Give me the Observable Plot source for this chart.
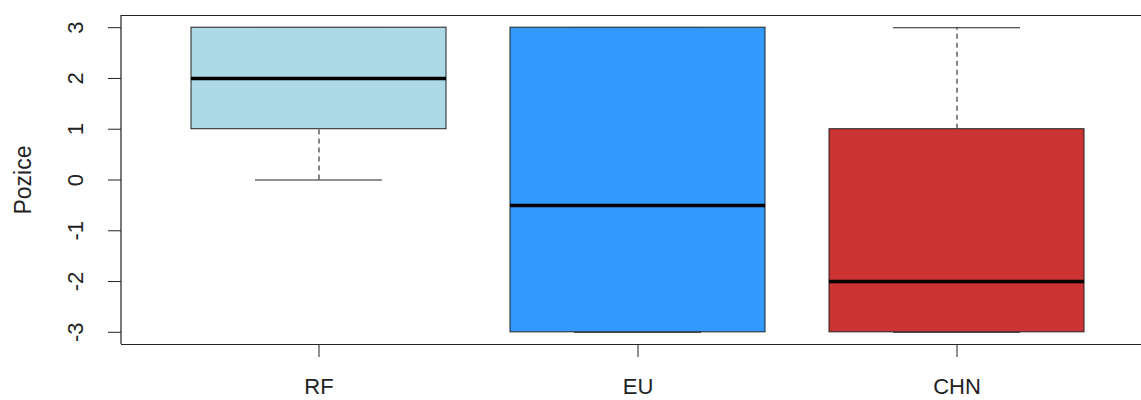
<!DOCTYPE html>
<html>
<head>
<meta charset="utf-8">
<script src="https://cdn.jsdelivr.net/npm/d3@7"></script>
<script src="https://cdn.jsdelivr.net/npm/@observablehq/plot@0.6"></script>
<style>
  html, body { margin: 0; padding: 0; background: #fff; }
  svg { font-family: "Liberation Sans", Arial, sans-serif; overflow: hidden; }
  svg g[aria-label="y-axis tick label"] text { font-size: 22px !important; }
  svg g[aria-label="x-axis tick label"] text { font-size: 22px !important; }
  svg g[aria-label="y-axis label"] text { font-size: 23px !important; }
</style>
</head>
<body>
<div id="chart"></div>
<script>
const categories = ["RF", "EU", "CHN"];
const mins    = [0, -3, -3];
const q1s     = [1, -3, -3];
const medians = [2, -0.5, -2];
const q3s     = [3, 3, 1];
const maxs    = [3, 3, 3];
const colors  = ["#ADD8E6", "#3399FF", "#CC3333"];
const yTicks  = [-3, -2, -1, 0, 1, 2, 3];

const data = categories.map((c, i) => ({
  cat: c, min: mins[i], q1: q1s[i], median: medians[i], q3: q3s[i], max: maxs[i], color: colors[i]
}));

const yDomain = [-3.24, 3.24];

const chart = Plot.plot({
  width: 1141,
  height: 400,
  marginLeft: 121,
  marginRight: 0,
  marginTop: 15,
  marginBottom: 56,
  style: { fontFamily: "Liberation Sans, Arial, sans-serif", color: "#222", background: "#fff" },
  x: { type: "band", domain: categories, range: [159.5, 1116.5], paddingInner: 0.2, paddingOuter: 0.1 },
  y: { domain: yDomain },
  marks: [
    Plot.ruleY([yDomain[0], yDomain[1]], { stroke: "#222", strokeWidth: 1.2 }),
    Plot.ruleX(data, { x: "cat", y1: "q3", y2: "max", stroke: "#222", strokeDasharray: "5,4", strokeWidth: 1.1 }),
    Plot.ruleX(data, { x: "cat", y1: "min", y2: "q1", stroke: "#222", strokeDasharray: "5,4", strokeWidth: 1.1 }),
    Plot.tickY(data, { x: "cat", y: "max", stroke: "#222", strokeWidth: 1.1, insetLeft: 64, insetRight: 64 }),
    Plot.tickY(data, { x: "cat", y: "min", stroke: "#222", strokeWidth: 1.1, insetLeft: 64, insetRight: 64 }),
    Plot.barY(data, { x: "cat", y1: "q1", y2: "q3", fill: "color", stroke: "#222", strokeWidth: 1 }),
    Plot.tickY(data, { x: "cat", y: "median", stroke: "#000", strokeWidth: 3.5 }),
    Plot.axisY({
      ticks: yTicks, tickSize: 13, tickRotate: -90, tickPadding: 26,
      tickFormat: d => (d < 0 ? "-" + Math.abs(d) : String(d)),
      label: "Pozice", labelAnchor: "center", labelArrow: "none", labelOffset: 107
    }),
    Plot.axisX({ tickSize: 13, tickPadding: 21, label: null })
  ]
});

document.getElementById("chart").append(chart);
const svg = d3.select(chart);
svg.append("line")
  .attr("x1", 121).attr("x2", 121)
  .attr("y1", 15).attr("y2", 344)
  .attr("stroke", "#222").attr("stroke-width", 1.2);
</script>
</body>
</html>
